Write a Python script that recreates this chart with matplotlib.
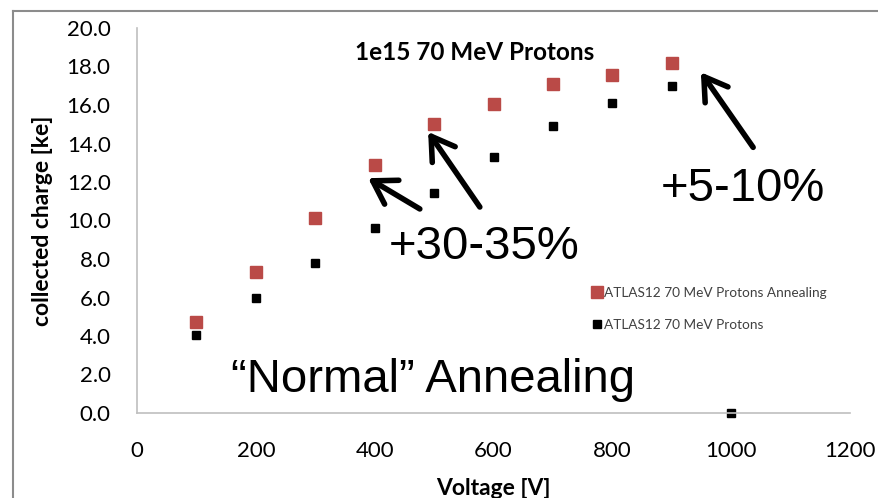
import matplotlib
matplotlib.use('Agg')
import matplotlib.pyplot as plt
from matplotlib.lines import Line2D

# data
voltage = [100, 200, 300, 400, 500, 600, 700, 800, 900]
charge_annealing = [4.75, 7.3, 10.15, 12.9, 15.0, 16.05, 17.1, 17.55, 18.2]
voltage_plain = [100, 200, 300, 400, 500, 600, 700, 800, 900, 1000]
charge_plain = [4.05, 5.95, 7.8, 9.6, 11.45, 13.3, 14.9, 16.1, 17.0, 0.0]

labels = ['ATLAS12 70 MeV Protons Annealing', 'ATLAS12 70 MeV Protons']
xticks = [0, 200, 400, 600, 800, 1000, 1200]
yticks = [0, 2, 4, 6, 8, 10, 12, 14, 16, 18, 20]

red = '#BA4A47'
calibri = ['Lato', 'DejaVu Sans']
arial = ['Liberation Sans', 'DejaVu Sans']

fig = plt.figure(figsize=(8.79, 4.98), dpi=100)
ax = fig.add_axes([137/879, 1 - 413/498, (850 - 137)/879, (413 - 28)/498])

ax.plot(voltage, charge_annealing, 's', color=red, markersize=8.6, label=labels[0],
        linestyle='none', clip_on=False)
ax.plot(voltage_plain, charge_plain, 's', color='black', markersize=5.8, label=labels[1],
        linestyle='none', clip_on=False)

ax.set_xlim(0, 1200)
ax.set_ylim(0, 20)
ax.set_xticks(xticks)
ax.set_yticks(yticks)
ax.set_yticklabels([f'{v:.1f}' for v in yticks])
ax.tick_params(length=0, labelsize=16)
ax.tick_params(axis='y', pad=19)
ax.tick_params(axis='x', pad=20)
for t in ax.get_xticklabels() + ax.get_yticklabels():
    t.set_family(calibri)

for s in ['top', 'right']:
    ax.spines[s].set_visible(False)
for s in ['left', 'bottom']:
    ax.spines[s].set_color('#BFBFBF')
    ax.spines[s].set_linewidth(1.2)

ax.set_xlabel('Voltage [V]', fontsize=16.5, fontweight='bold', family=calibri)
ax.set_ylabel('collected charge [ke]', fontsize=16.5, fontweight='bold', family=calibri)
ax.yaxis.set_label_coords(-0.118, 0.5)
ax.xaxis.set_label_coords(0.5, -0.169)

fig.text(475/879, 1 - 52/498, '1e15 70 MeV Protons', fontsize=17.5, fontweight='bold',
         family=calibri, ha='center', va='center')

leg = ax.legend(loc='upper left', bbox_to_anchor=(0.628, 0.342), frameon=False,
                prop={'family': calibri, 'size': 9.8}, handletextpad=0.0,
                handlelength=1.0, labelspacing=1.5, borderaxespad=0,
                labelcolor='#404040')

# annotations
ax.text(584, 8.6, '+30-35%', fontsize=34, family=arial, ha='center', va='center')
ax.text(1020, 11.65, '+5-10%', fontsize=34, family=arial, ha='center', va='center')
ax.text(498, 1.7, '\u201cNormal\u201d Annealing', fontsize=34, family=arial, ha='center', va='center')

arrows = [((476, 10.6), (389, 12.2)), ((577, 10.7), (490, 14.6)), ((1037, 13.8), (949, 17.7))]
for tail, tip in arrows:
    ax.annotate('', xy=tip, xytext=tail,
                arrowprops=dict(arrowstyle='->, head_length=0.8, head_width=0.5',
                                lw=4, color='black', mutation_scale=20,
                                shrinkA=0, shrinkB=0))

# chart border from the slide
fig.add_artist(Line2D([13/879, 13/879], [0, 1 - 11/498], color='#8C8C8C', lw=1.5,
                      transform=fig.transFigure))
fig.add_artist(Line2D([13/879, 1], [1 - 11/498, 1 - 11/498], color='#8C8C8C', lw=1.5,
                      transform=fig.transFigure))

fig.savefig('out.png', dpi=100)
